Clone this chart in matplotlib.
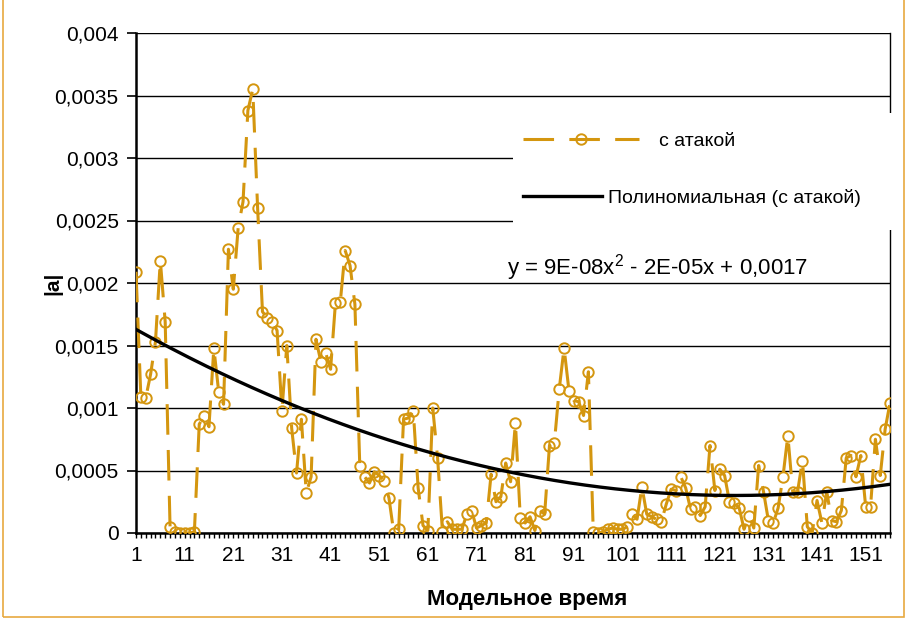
import numpy as np
import matplotlib.pyplot as plt
from matplotlib.patches import Rectangle
from matplotlib.ticker import FuncFormatter, MultipleLocator, FixedLocator

plt.rcParams['font.family'] = ['Liberation Sans', 'DejaVu Sans']
plt.rcParams['mathtext.default'] = 'regular'

# |a| with attack, one value per model time step
a_vals = [
    0.00209, 0.00109, 0.00108, 0.00127, 0.00153, 0.00218, 0.00169, 0.00005, 0.00001, 0.0,
    0.0, 0.0, 0.00001, 0.00087, 0.00094, 0.00085, 0.00148, 0.00113, 0.00103, 0.00227,
    0.00195, 0.00244, 0.00265, 0.00338, 0.00355, 0.0026, 0.00177, 0.00172, 0.00169, 0.00162,
    0.00098, 0.0015, 0.00084, 0.00048, 0.00091, 0.00032, 0.00045, 0.00155, 0.00137, 0.00144,
    0.00131, 0.00184, 0.00185, 0.00226, 0.00214, 0.00183, 0.00054, 0.00045, 0.0004, 0.00049,
    0.00046, 0.00042, 0.00028, 0.0, 0.00003, 0.00091, 0.00092, 0.00098, 0.00036, 0.00006,
    0.00002, 0.001, 0.0006, 0.00001, 0.00009, 0.00003, 0.00003, 0.00003, 0.00015, 0.00018,
    0.00004, 0.00006, 0.00008, 0.00047, 0.00025, 0.00029, 0.00056, 0.00041, 0.00088, 0.00012,
    0.00008, 0.00013, 0.00002, 0.00018, 0.00015, 0.0007, 0.00072, 0.00115, 0.00148, 0.00114,
    0.00106, 0.00105, 0.00094, 0.00129, 0.00001, 0.0, 0.00001, 0.00003, 0.00004, 0.00003,
    0.00003, 0.00005, 0.00015, 0.00011, 0.00037, 0.00015, 0.00013, 0.00011, 0.00009, 0.00023,
    0.00035, 0.00034, 0.00045, 0.00036, 0.00019, 0.00021, 0.00014, 0.00021, 0.0007, 0.00034,
    0.00051, 0.00046, 0.00025, 0.00024, 0.0002, 0.00003, 0.00014, 0.00004, 0.00054, 0.00033,
    0.0001, 0.00008, 0.0002, 0.00045, 0.00078, 0.00033, 0.00033, 0.00058, 0.00005, 0.0,
    0.00026, 0.00008, 0.00033, 0.0001, 0.00009, 0.00018, 0.0006, 0.00062, 0.00045, 0.00062,
    0.00021, 0.00021, 0.00075, 0.00046, 0.00083, 0.00104,
]
t = np.arange(1, len(a_vals) + 1)

series_label = 'с атакой'
trend_label = 'Полиномиальная (с атакой)'
eq_text = 'y = 9E-08x$^2$ - 2E-05x + 0,0017'
x_label = 'Модельное время'
y_label = '|a|'
x_tick_labels = list(range(1, len(a_vals) + 1, 10))

gold = '#D4960F'

fig = plt.figure(figsize=(9.07, 6.21), dpi=100)
ax = fig.add_axes([136/907, 88/621, 754/907, 500/621])

# data series
line_series, = ax.plot(t, a_vals, color=gold, lw=2.2, dashes=(10, 5),
                       marker='o', ms=7.5, mfc='none', mec=gold, mew=1.4, zorder=3)

# 2nd order polynomial trend
coef = np.polyfit(t, a_vals, 2)
tt = np.linspace(t[0], t[-1], 300)
line_trend, = ax.plot(tt, np.polyval(coef, tt), color='black', lw=2.4, zorder=4)

ax.set_xlim(t[0], t[-1])
ax.set_ylim(0, 0.004)
ax.yaxis.set_major_locator(MultipleLocator(0.0005))
ax.yaxis.set_major_formatter(FuncFormatter(lambda v, p: f'{v:g}'.replace('.', ',')))
ax.xaxis.set_major_locator(FixedLocator(x_tick_labels))
ax.xaxis.set_minor_locator(MultipleLocator(1))
ax.grid(axis='y', color='black', lw=1.0, zorder=1)

ax.tick_params(axis='y', direction='out', length=6.5, width=1.2, labelsize=15, pad=6)
ax.tick_params(axis='x', which='both', direction='out', length=3.5, width=1.0,
               labelsize=15, pad=6)

for side in ['left', 'bottom']:
    ax.spines[side].set_linewidth(1.8)
ax.spines['right'].set_linewidth(1.0)
ax.spines['top'].set_visible(False)

ax.set_xlabel(x_label, fontsize=16, fontweight='bold')
ax.xaxis.set_label_coords((527 - 136) / 754, -0.112)
ax.set_ylabel(y_label, fontsize=15, fontweight='bold')
ax.yaxis.set_label_coords(-0.097, 0.5)

# white legend area covering grid lines
ax.add_patch(Rectangle((0.5, 0.606), 0.507, 0.234, transform=ax.transAxes,
                       facecolor='white', edgecolor='none', clip_on=False, zorder=5))

leg1 = ax.legend([line_series], [series_label], loc='center left',
                 bbox_to_anchor=(0.513, 0.784), frameon=False, fontsize=14,
                 handlelength=6.0, handletextpad=0.98, borderpad=0, borderaxespad=0)
leg1.set_zorder(6)
ax.add_artist(leg1)
leg2 = ax.legend([line_trend], [trend_label], loc='center left',
                 bbox_to_anchor=(0.513, 0.67), frameon=False, fontsize=14,
                 handlelength=4.06, handletextpad=0.31, borderpad=0, borderaxespad=0)
leg2.set_zorder(6)

ax.text(0.492, 0.53, eq_text, transform=ax.transAxes, fontsize=16,
        ha='left', va='center', zorder=6)

# chart area border
fig.patches.append(Rectangle((3/907, 4/621), 901/907, 1.2, transform=fig.transFigure,
                             fill=False, edgecolor='#E8A940', lw=1.2))

fig.savefig('out.png', dpi=100)
